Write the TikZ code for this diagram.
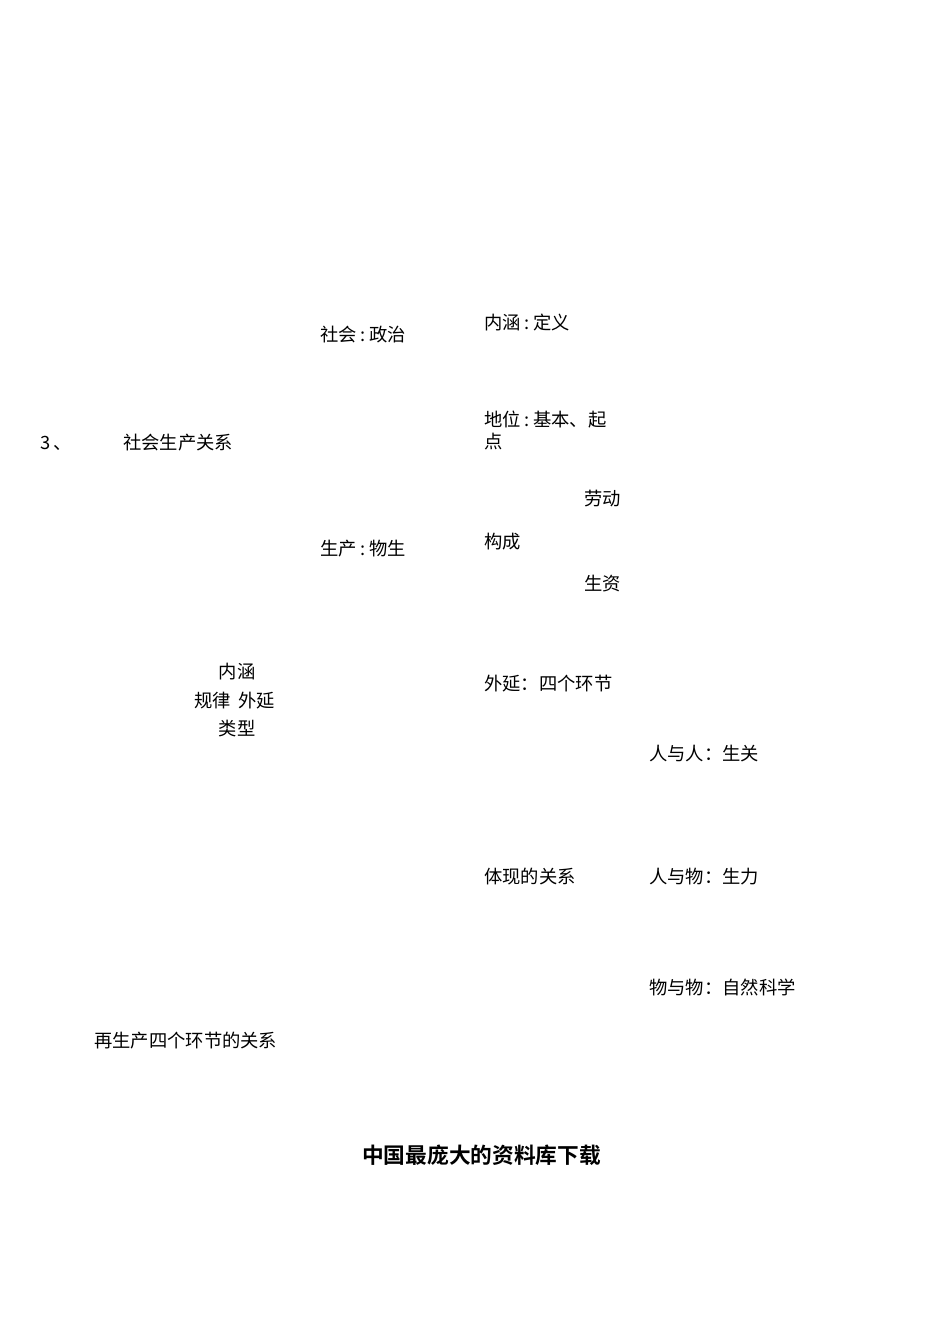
\documentclass[tikz,border=0pt]{standalone}
\usepackage{fontspec}
\newfontfamily\cjk{Noto Sans CJK SC}
\newfontfamily\cjkb{Noto Sans CJK SC Bold}
\newcommand{\hc}{\hspace{0.2em}:\hspace{0.2em}}
\begin{document}
\begin{tikzpicture}[x=1pt,y=-1pt,
  txt/.style={anchor=west,inner sep=0pt,font=\cjk\fontsize{18.3}{21}\selectfont},
  ctxt/.style={anchor=center,inner sep=0pt,font=\cjk\fontsize{18.3}{21}\selectfont},
  ttl/.style={anchor=west,inner sep=0pt,font=\cjkb\fontsize{21.7}{24}\selectfont}]
\useasboundingbox[fill=white] (0,0) rectangle (950,1342);
\node[txt] (shzz) at (320,335) {社会\hc 政治};
\node[txt] (nhdy) at (484,323) {内涵\hc 定义};
\node[txt] (n3) at (40,443) {3\hspace{0.15em}、};
\node[txt] (shsc) at (123,443) {社会生产关系};
\node[txt] (dw1) at (484,420) {地位\hc 基本、起};
\node[txt] (dw2) at (484,442) {点};
\node[txt] (ld) at (584,499) {劳动};
\node[txt] (gc) at (484,542) {构成};
\node[txt] (scws) at (320,549) {生产\hc 物生};
\node[txt] (sz) at (584,584) {生资};
\node[ctxt] (nh) at (237,672) {内涵};
\node[txt] (glwy) at (194,701) {规律\hspace{0.4em}外延};
\node[ctxt] (lx) at (237,729) {类型};
\node[txt] (wy) at (484,684) {外延：四个环节};
\node[txt] (ryr) at (649,754) {人与人：生关};
\node[txt] (txgx) at (484,877) {体现的关系};
\node[txt] (ryw) at (649,877) {人与物：生力};
\node[txt] (wyw) at (649,987) {物与物：自然科学};
\node[txt] (zsc) at (94,1041) {再生产四个环节的关系};
\node[ttl] (title) at (362,1155) {中国最庞大的资料库下载};
\end{tikzpicture}
\end{document}
